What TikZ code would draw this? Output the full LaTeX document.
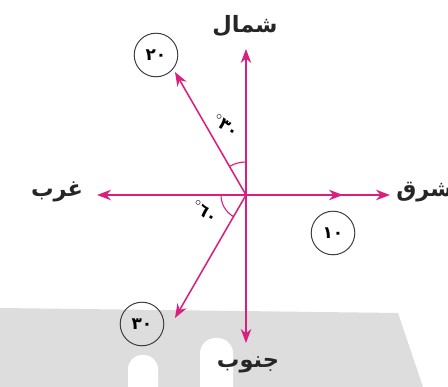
\documentclass[tikz,border=0pt]{standalone}
\usepackage{fontspec}
\usetikzlibrary{arrows.meta,calc}
\TeXXeTstate=1
\newfontfamily\arabicfont[Script=Arabic]{DejaVu Sans}
\definecolor{vecmag}{RGB}{218,32,124}
\definecolor{bggray}{RGB}{221,221,221}
\definecolor{ringgray}{RGB}{60,60,60}
\tikzset{
  vec/.style={draw=vecmag, line width=1.1pt, -{Stealth[length=10pt,width=7.5pt]}},
  anglearc/.style={draw=vecmag, line width=0.8pt},
  dirlabel/.style={font=\arabicfont\bfseries\fontsize{16}{19}\selectfont, text=black!85, inner sep=0pt},
  numring/.style={draw=ringgray, line width=0.7pt, circle, minimum size=31pt, inner sep=0pt, font=\arabicfont\bfseries\fontsize{12}{14}\selectfont},
  anglelabel/.style={font=\arabicfont\bfseries\fontsize{12}{14}\selectfont, inner sep=0pt, rotate=-35}
}
\begin{document}
\begin{tikzpicture}[x=0.025cm,y=0.025cm]
\useasboundingbox (0,0) rectangle (448,387);
\clip (0,0) rectangle (448,387);
% background gray shape
\fill[bggray] (0,0) -- (0,79) -- (398,74) -- (423,0) -- cycle;
\fill[white, rounded corners=10pt] (128,-20) rectangle (158,32);
\fill[white, rounded corners=11pt] (200,-20) rectangle (233,49);
% points
\coordinate (O) at (246,192);
\coordinate (N) at (246,338);
\coordinate (S) at (246,44);
\coordinate (W) at (97,192);
\coordinate (E) at (390,192);
\coordinate (V10) at (343,192);
\coordinate (V20) at ($(O)+(120:142)$);
\coordinate (V30) at ($(O)+(240:142)$);
% arcs
\draw[anglearc] ($(O)+(90:33)$) arc[start angle=90,end angle=120,radius=33];
\draw[anglearc] ($(O)+(180:25)$) arc[start angle=180,end angle=240,radius=25];
% axes
\draw[vec] (O) -- (N);
\draw[vec] (O) -- (S);
\draw[vec] (O) -- (W);
\draw[vec] (O) -- (E);
\draw[vec] (O) -- (V10);
\draw[vec] (O) -- (V20);
\draw[vec] (O) -- (V30);
% direction labels
\node[dirlabel] (north) at (245,361) {\beginR شمال\endR};
\node[dirlabel] (south) at (248,22) {\beginR جنوب\endR};
\node[dirlabel] (west) at (57,195) {\beginR غرب\endR};
\node[dirlabel, anchor=west] (east) at (396,195) {\beginR شرق\endR};
% magnitude circles
\node[numring] (c20) at (156,332) {٢٠};
\node[numring] (c10) at (333,154) {١٠};
\node[numring] (c30) at (142,63) {٣٠};
% angle labels
\node[anglelabel] (a30) at (226,261) {$^{\circ}$٣٠};
\node[anglelabel] (a60) at (205,175) {$^{\circ}$٦٠};
\end{tikzpicture}
\end{document}
